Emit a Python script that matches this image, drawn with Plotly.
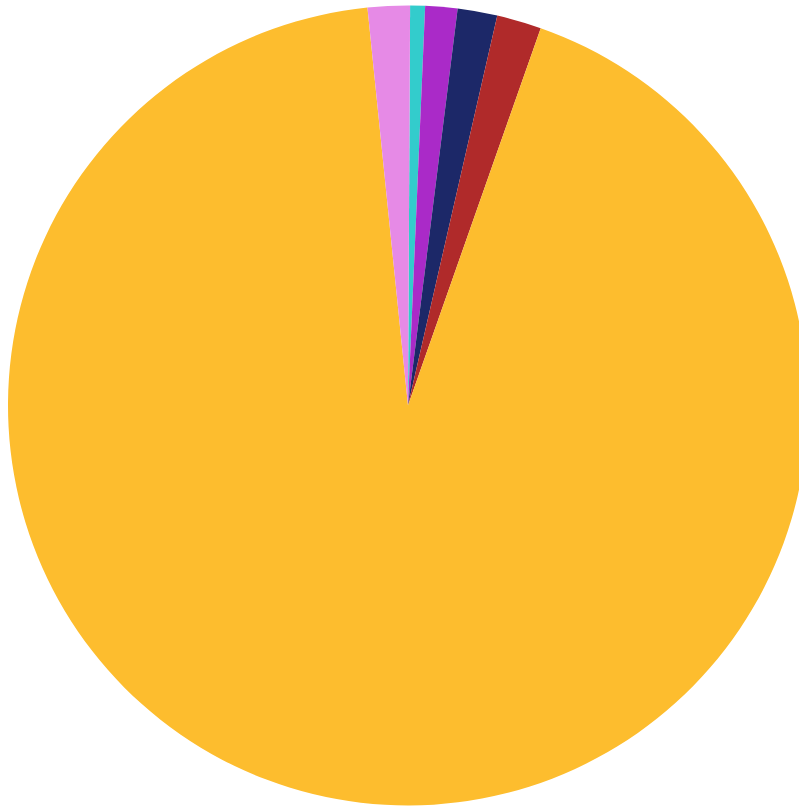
import plotly.graph_objects as go

labels = ["Cyan", "Purple", "Navy", "Red", "Gold", "Violet"]
values = [0.6, 1.3, 1.6, 1.8, 93.0, 1.7]
colors = ["#33cccc", "#aa2ac8", "#1c2868", "#b02a2a", "#fdbd2e", "#e68ae6"]

W, H = 816, 811
fig = go.Figure(go.Pie(
    labels=labels, values=values, sort=False, direction="clockwise", rotation=0.3,
    marker=dict(colors=colors, line=dict(width=0)),
    textinfo="none", hoverinfo="label+percent", showlegend=False,
    domain=dict(x=[8 / W, 808 / W], y=[0, 1]),
))
fig.update_layout(width=W, height=H, margin=dict(l=0, r=0, t=0, b=0),
                  paper_bgcolor="white", plot_bgcolor="white")
fig.write_html(
    "out.html",
    config={"displayModeBar": False},
    post_script="document.body.style.margin='0';document.body.style.overflow='hidden';"
                "document.documentElement.style.overflow='hidden';",
)
